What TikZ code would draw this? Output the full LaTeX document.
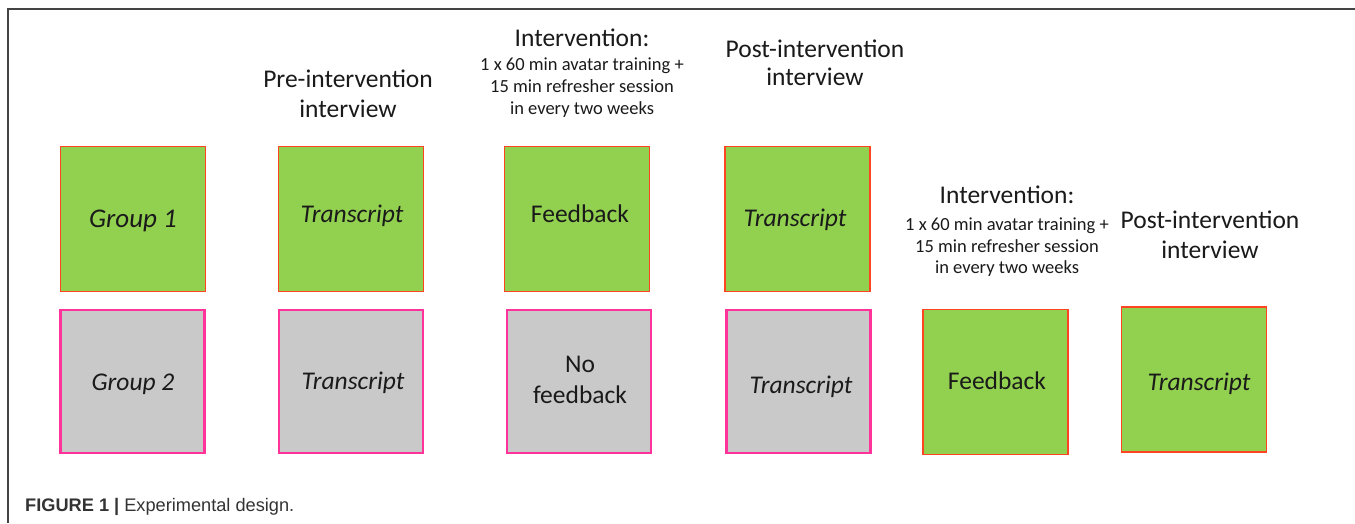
\documentclass[tikz,border=0pt]{standalone}
\usepackage{fontspec}
\setmainfont{Carlito}
\newfontfamily\capfont{Liberation Sans}
\definecolor{boxgreen}{HTML}{92D050}
\definecolor{boxred}{HTML}{FF4422}
\definecolor{boxgrey}{HTML}{C9C9C9}
\definecolor{boxpink}{HTML}{FF3399}
\definecolor{framegrey}{HTML}{444444}
\definecolor{txt}{HTML}{1A1A1A}
\definecolor{captxt}{HTML}{333333}
\begin{document}
\begin{tikzpicture}[x=1pt,y=-1pt,
  greenbox/.style={draw=boxred, fill=boxgreen, line width=1.5pt, minimum width=145pt, minimum height=145pt, inner sep=0pt},
  greybox/.style={draw=boxpink, fill=boxgrey, line width=2.8pt, minimum width=144pt, minimum height=143pt, inner sep=0pt},
  head/.style={anchor=base, inner sep=0pt, font=\fontsize{25.5}{30}\selectfont, text=txt},
  sub/.style={anchor=base, inner sep=0pt, font=\fontsize{18.5}{22}\selectfont, text=txt},
  lbl/.style={anchor=base, inner sep=0pt, font=\fontsize{25.5}{31}\selectfont, text=txt},
  ilbl/.style={anchor=base, inner sep=0pt, font=\fontsize{25.5}{31}\selectfont\itshape, text=txt},
]
\useasboundingbox (0,0) rectangle (1355,523);
\fill[white] (0,0) rectangle (1355,523);
\coordinate (fbl) at (8,523);
\coordinate (ftl) at (8,9);
\coordinate (ftr) at (1355,9);
\draw[framegrey, line width=1.6pt] (fbl) -- (ftl) -- (ftr);

% boxes row 1
\node[greenbox] (g1) at (133,219) {};
\node[greenbox] (t1) at (351,219) {};
\node[greenbox] (f1) at (577,219) {};
\node[greenbox] (p1) at (797.5,219) {};
% boxes row 2
\node[greybox] (g2) at (132.5,381.5) {};
\node[greybox] (t2) at (351,381.5) {};
\node[greybox] (nf) at (579,381.5) {};
\node[greybox] (p2) at (798.5,381.5) {};
\node[greenbox] (f2) at (995.5,382) {};
\node[greenbox] (p3) at (1194,379.5) {};

% box labels
\node[ilbl, font=\fontsize{27}{31}\selectfont\itshape] (g1t) at (133,227) {Group 1};
\node[ilbl] (t1t) at (352,222) {Transcript};
\node[lbl] (f1t) at (580,222) {Feedback};
\node[ilbl] (p1t) at (795,226) {Transcript};
\node[ilbl] (g2t) at (133,390) {Group 2};
\node[ilbl] (t2t) at (353,389) {Transcript};
\node[lbl] (nft1) at (580,372) {No};
\node[lbl] (nft2) at (580,403) {feedback};
\node[ilbl] (p2t) at (801,393) {Transcript};
\node[lbl] (f2t) at (997,389) {Feedback};
\node[ilbl] (p3t) at (1199,390) {Transcript};

% headers
\node[head] (pre1) at (348,87) {Pre-intervention};
\node[head] (pre2) at (348,117) {interview};
\node[head] (iv1) at (582,46) {Intervention:};
\node[sub] (iv1a) at (582,70) {1 x 60 min avatar training +};
\node[sub] (iv1b) at (582,92) {15 min refresher session};
\node[sub] (iv1c) at (582,114) {in every two weeks};
\node[head] (po1) at (815,57) {Post-intervention};
\node[head] (po2) at (815,85) {interview};
\node[head] (iv2) at (1007,203) {Intervention:};
\node[sub] (iv2a) at (1007,230) {1 x 60 min avatar training +};
\node[sub] (iv2b) at (1007,252) {15 min refresher session};
\node[sub] (iv2c) at (1007,273) {in every two weeks};
\node[head] (po3) at (1210,228) {Post-intervention};
\node[head] (po4) at (1210,258) {interview};

% caption
\node[anchor=base west, inner sep=0pt, text=captxt, font=\capfont\fontsize{18.2}{21}\selectfont] (cap) at (25,511) {\textbf{FIGURE 1 |} Experimental design.};
\end{tikzpicture}
\end{document}
